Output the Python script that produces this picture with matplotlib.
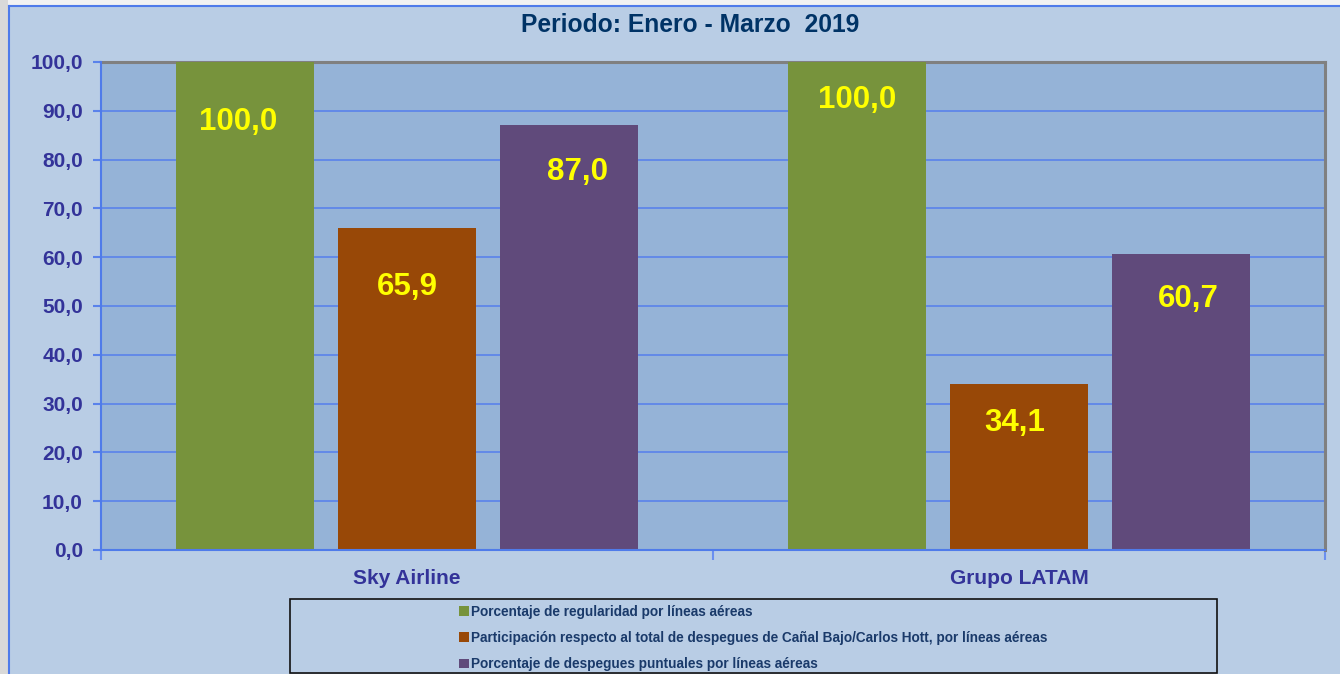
import matplotlib
matplotlib.use("Agg")
import matplotlib.pyplot as plt
from matplotlib.patches import Rectangle, Patch
from matplotlib.lines import Line2D
from matplotlib.ticker import FuncFormatter
import numpy as np

plt.rcParams['font.family'] = ['Liberation Sans', 'DejaVu Sans']

# ---- data ----
title = "Periodo: Enero - Marzo  2019"
categories = ["Sky Airline", "Grupo LATAM"]
series_names = [
    "Porcentaje de regularidad por líneas aéreas",
    "Participación respecto al total de despegues de Cañal Bajo/Carlos Hott, por líneas aéreas",
    "Porcentaje de despegues puntuales por líneas aéreas",
]
regularidad = [100.0, 100.0]
participacion = [65.9, 34.1]
puntuales = [87.0, 60.7]
yticks = [0, 10, 20, 30, 40, 50, 60, 70, 80, 90, 100]

# ---- style ----
colors = ["#77933C", "#984807", "#604A7B"]
# per-label offsets (points) from bar top: (dx, dy) for [series][category]
label_offsets = [
    [(-5, -43.5), (0, -27.5)],
    [(0, -42.5), (-3, -28.5)],
    [(6, -33.5), (5, -32.5)],
]

W, H = 1340, 674
fig = plt.figure(figsize=(W / 100, H / 100), dpi=100)
fig.patch.set_facecolor("#B9CDE5")

# outer decorations
fig.add_artist(Rectangle((0, 0), 8 / W, 1, transform=fig.transFigure,
                         facecolor="#D9D9D9", edgecolor="none", zorder=0))
fig.add_artist(Rectangle((8 / W, 1 - 5 / H), 1, 5 / H, transform=fig.transFigure,
                         facecolor="#F2F2F2", edgecolor="none", zorder=0))
fig.add_artist(Line2D([8.5 / W, 8.5 / W], [0, 1 - 5.5 / H], transform=fig.transFigure,
                      color="#4F7BEA", lw=1.5))
fig.add_artist(Line2D([8.5 / W, 1], [1 - 5.5 / H, 1 - 5.5 / H], transform=fig.transFigure,
                      color="#4F7BEA", lw=1.5))

ax = fig.add_axes([101 / W, (H - 550) / H, (1325 - 101) / W, (550 - 62) / H])
ax.set_facecolor("#95B3D7")

x = np.arange(len(categories))
width = 0.226
offsets = [-0.265, 0.0, 0.265]
all_series = [regularidad, participacion, puntuales]
for i, (vals, c) in enumerate(zip(all_series, colors)):
    bars = ax.bar(x + offsets[i], vals, width=width, color=c, zorder=3,
                  label=series_names[i])
    for j, (b, v) in enumerate(zip(bars, vals)):
        dx, dy = label_offsets[i][j]
        ax.annotate(f"{v:.1f}".replace(".", ","),
                    xy=(b.get_x() + b.get_width() / 2, v),
                    xytext=(dx, dy), textcoords="offset points",
                    ha="center", va="center", color="#FFFF00",
                    fontsize=22.5, fontweight="bold", zorder=5)

ax.set_xlim(-0.5, 1.5)
ax.set_ylim(0, 100)
ax.set_yticks(yticks)
ax.yaxis.set_major_formatter(FuncFormatter(lambda v, p: f"{v:.1f}".replace(".", ",")))
ax.grid(axis="y", color="#5A82EB", lw=1.2, zorder=1)
ax.set_axisbelow(True)

ax.set_xticks([-0.5, 0.5, 1.5])
ax.set_xticklabels([])
ax.set_xticks(x, minor=True)
ax.set_xticklabels(categories, minor=True)
ax.tick_params(axis="x", which="major", length=7, width=1.5, color="#6A8FF0", direction="out")
ax.tick_params(axis="x", which="minor", length=0, pad=14, labelsize=15,
               labelcolor="#333399")
for lab in ax.get_xticklabels(minor=True):
    lab.set_fontweight("bold")
ax.tick_params(axis="y", length=6, width=1.5, color="#5A82EB", pad=7, labelsize=15,
               labelcolor="#333399")
for lab in ax.get_yticklabels():
    lab.set_fontweight("bold")

for s in ["left", "bottom"]:
    ax.spines[s].set_color("#4F7BEA")
    ax.spines[s].set_linewidth(1.5)
    ax.spines[s].set_zorder(4)
for s in ["top", "right"]:
    ax.spines[s].set_color("#808080")
    ax.spines[s].set_linewidth(2.2)

fig.text(690 / W, 1 - 25 / H, title, ha="center", va="center", fontsize=17.7,
         fontweight="bold", color="#003366")

# legend box
fig.add_artist(Rectangle((290 / W, (H - 673) / H), (1217 - 290) / W, (673 - 599) / H,
                         transform=fig.transFigure, facecolor="none",
                         edgecolor="#111111", lw=1.2, zorder=2))
handles = [Patch(facecolor=c, edgecolor="none") for c in colors]
leg = fig.legend(handles, series_names, loc="center",
                 bbox_to_anchor=(753 / W, (H - 638) / H), frameon=False,
                 fontsize=9.8, handlelength=0.75, handleheight=0.75,
                 handletextpad=0.15, labelspacing=0.9, borderpad=0)
for t in leg.get_texts():
    t.set_fontweight("bold")
    t.set_color("#1A3A6A")

fig.savefig("out.png", dpi=100, facecolor=fig.get_facecolor())
